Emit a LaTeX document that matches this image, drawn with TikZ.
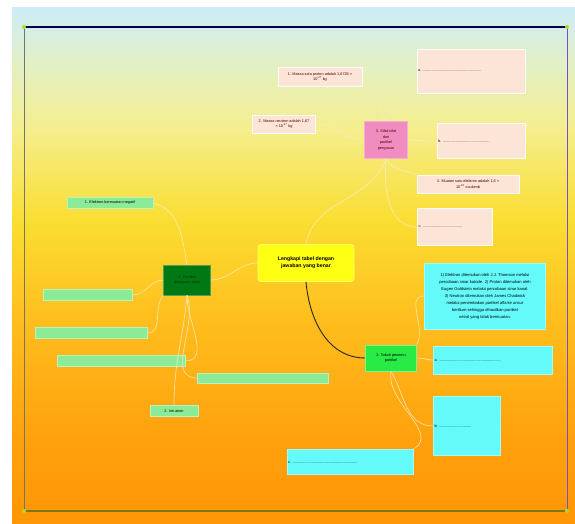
\documentclass[tikz,border=0pt]{standalone}
\usepackage{fontspec}
\setmainfont{Liberation Sans}
\usepackage{tikz}
\usetikzlibrary{positioning}
\usepackage{xcolor}

\definecolor{bgA}{RGB}{206,236,248}
\definecolor{bgAA}{RGB}{225,240,200}
\definecolor{bgB}{RGB}{245,238,140}
\definecolor{bgBB}{RGB}{250,222,50}
\definecolor{bgC}{RGB}{255,190,30}
\definecolor{bgCC}{RGB}{255,160,12}
\definecolor{bgD}{RGB}{255,150,5}
\pgfdeclareverticalshading{bgfade}{100bp}{color(0bp)=(bgD); color(25bp)=(bgD); color(33bp)=(bgCC); color(44.8bp)=(bgC); color(54.5bp)=(bgBB); color(63.2bp)=(bgB); color(70bp)=(bgAA); color(75bp)=(bgA); color(100bp)=(bgA)}

\definecolor{topicyellow}{RGB}{255,255,20}
\definecolor{pinkfill}{RGB}{240,140,192}
\definecolor{peachfill}{RGB}{252,228,214}
\definecolor{cyanfill}{RGB}{100,250,250}
\definecolor{leaffill}{RGB}{140,235,150}
\definecolor{darkleaf}{RGB}{0,120,20}
\definecolor{brightleaf}{RGB}{40,235,70}
\definecolor{branchcol}{RGB}{250,236,196}

\newcommand\mapfont{\fontsize{3.8}{5.6}\selectfont}
\newcommand\expo[1]{\textsuperscript{#1}}

\tikzset{
  topic/.style={draw=topicyellow!60!white, fill=topicyellow, rounded corners=3pt, line width=0.8pt, align=center, font=\fontsize{5.2}{7}\selectfont\bfseries},
  pinkbox/.style={draw=pinkfill!70!white, fill=pinkfill, line width=0.6pt, align=center, font=\mapfont, text=black!70!red},
  peachbox/.style={draw=white!80!peachfill, fill=peachfill, line width=0.8pt, align=center, font=\mapfont, inner sep=1pt, text=black!70!red},
  cyanbox/.style={draw=cyanfill!60!white, fill=cyanfill, line width=0.8pt, align=center, font=\mapfont, inner sep=1pt},
  leafbox/.style={draw=leaffill!60!white, fill=leaffill, line width=0.6pt, align=center, font=\mapfont, inner sep=0.5pt},
  blank/.style={align=left, text width=#1},
  branch/.style={draw=branchcol, line width=0.7pt, opacity=0.8},
}

\begin{document}
\begin{tikzpicture}[x=1pt,y=1pt]
\useasboundingbox (0,0) rectangle (575,524);
\shade[shading=bgfade] (12,0) rectangle (575,516);

% frame
\coordinate (tl) at (24,497);
\coordinate (tr) at (567,497);
\coordinate (bl) at (24,13);
\coordinate (br) at (567,13);
\draw[black!70!blue, line width=1.2pt] (tl) -- (tr);
\draw[blue!50!violet!70!white, line width=1pt] (tr) -- (br);
\draw[black!55, line width=0.6pt] (tl) -- (bl);
\draw[olive!85!black, line width=1.2pt] (bl) -- (br);
\foreach \c in {tl,tr,bl,br}
  \fill[yellow!70!green] (\c) circle (2);

% nodes
\node[topic, minimum width=96, minimum height=37](main) at (306,261){Lengkapi tabel dengan\\jawaban yang benar};

\node[pinkbox, minimum width=43, minimum height=37](sifat) at (386,384){3. Sifat-sifat\\dari\\partikel\\penyusun};
\node[peachbox, minimum width=84, minimum height=19](massap) at (320,447){1. Massa satu proton adalah 1,6726 ×\\10\expo{-27} kg};
\node[peachbox, minimum width=63, minimum height=18](massan) at (284,400){2. Massa neutron adalah 1,67\\× 10\expo{-27} kg};
\node[peachbox, blank=106, minimum height=44](isia) at (471,453){a. .......................................................};
\node[peachbox, blank=86, minimum height=35](isib) at (481,383){b. ............................................};
\node[peachbox, minimum width=102, minimum height=18](muatan) at (468,340){3. Muatan satu elektron adalah 1,6 ×\\10\expo{-19} coulomb};
\node[peachbox, blank=73, minimum height=37](isic) at (455,297){c. .....................................};

\node[draw=darkleaf!70!white, fill=darkleaf, line width=0.6pt, align=center, font=\mapfont, text=black!80!green, minimum width=47, minimum height=30](partikel) at (187,244){1. Partikel\\penyusun atom};
\node[leafbox, minimum width=86, minimum height=11](elektron) at (110,321){1. Elektron bermuatan negatif};
\node[leafbox, minimum width=89, minimum height=11](leafb) at (88,229){};
\node[leafbox, minimum width=112, minimum height=11](leafc) at (91,191){};
\node[leafbox, minimum width=128, minimum height=11](leafd) at (121,163){};
\node[leafbox, minimum width=131, minimum height=10](leafe) at (263,146){};
\node[leafbox, minimum width=48, minimum height=11](inti) at (174,113){2. Inti atom};

\node[draw=brightleaf!60!white, fill=brightleaf, line width=0.6pt, align=center, font=\mapfont, minimum width=51, minimum height=26](tokoh) at (391,166){2. Tokoh penemu\\partikel};
\node[cyanbox, minimum width=121, minimum height=66, font=\fontsize{4.1}{7}\selectfont](uraian) at (485,228){1) Elektron ditemukan oleh J.J. Thomson melalui\\percobaan sinar katode. 2) Proton ditemukan oleh\\Eugen Goldstein melalui percobaan sinar kanal.\\3) Neutron ditemukan oleh James Chadwick\\melalui penembakan partikel alfa ke unsur\\berilium sehingga dihasilkan partikel\\netral yang tidak bermuatan.};
\node[cyanbox, blank=117, minimum height=28](tokoha) at (493,164){a. ..........................................................};
\node[cyanbox, blank=65, minimum height=59](tokohb) at (467,98){b. ..............................};
\node[cyanbox, blank=124, minimum height=25](tokohc) at (350,62){c. .............................................................};

% connectors
\draw[black!85, line width=0.9pt] (main.south) to[out=-85,in=180] (tokoh.west);
\path[branch] (main.west) to[out=180,in=0] (partikel.east);
\path[branch] (main.north) to[out=80,in=-110] (sifat.south);

\path[branch] (sifat.north) to[out=115,in=-40] (massap.south east);
\path[branch] (sifat.north) to[out=70,in=200] (isia.south west);
\path[branch] (sifat.west) to[out=180,in=0] (massan.east);
\path[branch] (sifat.east) to[out=0,in=180] (isib.west);
\path[branch] (sifat.south) to[out=-60,in=160] (muatan.north west);
\path[branch] (sifat.south) to[out=-95,in=180] (isic.west);

\path[branch] (partikel.north) to[out=100,in=-15] (elektron.east);
\path[branch] (partikel.west) to[out=180,in=0] (leafb.east);
\path[branch] (partikel.south west) to[out=230,in=0] (leafc.east);
\path[branch] (partikel.south) to[out=-90,in=0] (leafd.east);
\path[branch] (partikel.south) to[out=-70,in=180] (leafe.west);
\path[branch] (partikel.south) to[out=-95,in=90] (inti.north);

\path[branch] (tokoh.north east) to[out=60,in=180] (uraian.west);
\path[branch] (tokoh.east) to[out=0,in=180] (tokoha.west);
\path[branch] (tokoh.south) to[out=-60,in=180] (tokohb.west);
\path[branch] (tokoh.south) to[out=-100,in=30] (tokohc.north east);
\end{tikzpicture}
\end{document}
